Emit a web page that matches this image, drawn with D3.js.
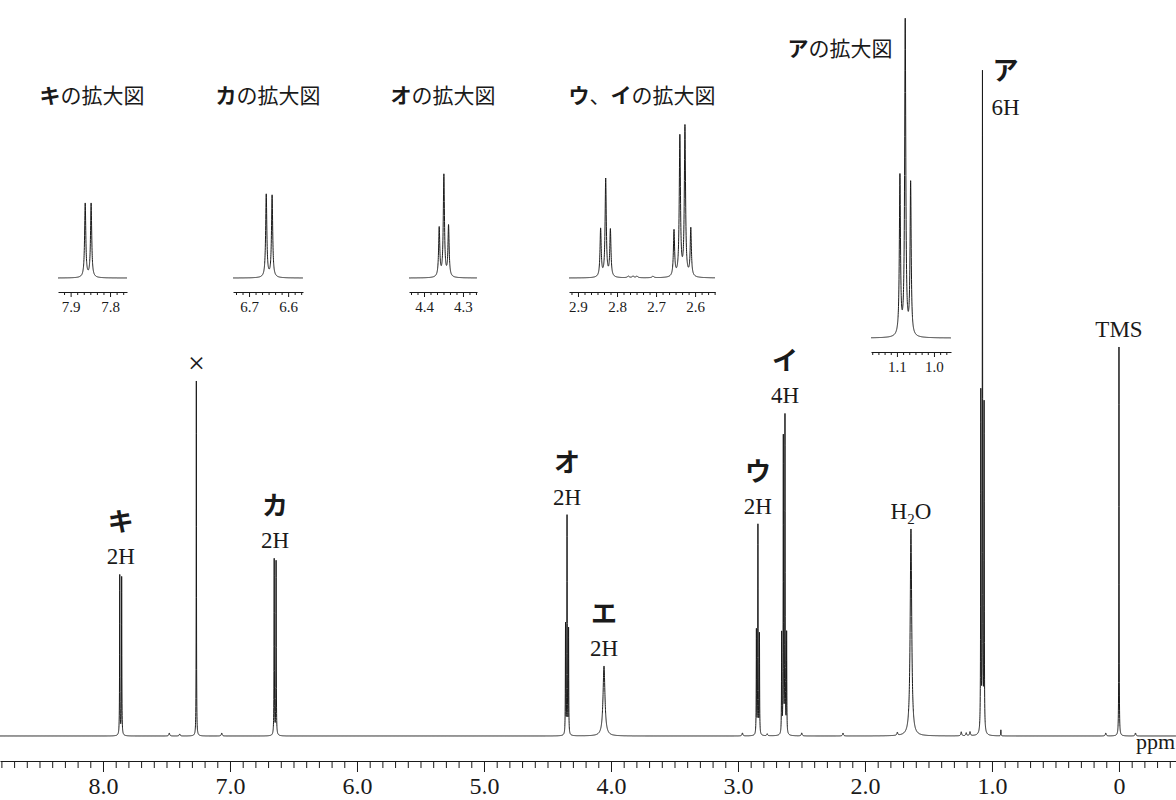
<!DOCTYPE html>
<html>
<head>
<meta charset="utf-8">
<title>1H NMR</title>
<script src="https://d3js.org/d3.v7.min.js"></script>
<style>
  body { margin: 0; background: #fff; }
  svg { display: block; }
  .num { font-family: 'Liberation Serif', 'DejaVu Serif', serif; fill: #1a1a1a; }
  .kana { font-family: 'Noto Sans CJK JP', sans-serif; fill: #1a1a1a; }
  .axis path, .axis line { stroke: #1a1a1a; stroke-width: 1; }
  .spec { fill: none; stroke: #1a1a1a; stroke-width: 1; }
</style>
</head>
<body>
<div id="chart"></div>
<script>
// main spectrum: line positions (ppm), heights, half widths
var mainPpm    = [7.868, 7.853, 7.265, 6.652, 6.637,
                  4.358, 4.346, 4.334, 4.055,
                  2.855, 2.843, 2.831, 2.656, 2.643, 2.630, 2.617,
                  1.638, 1.088, 1.075, 1.062, 0.0,
                  7.478, 7.396, 7.065, 2.965, 2.770, 2.498, 2.173, 1.745,
                  1.242, 1.203, 1.173, 0.930, 0.104, -0.130];
var mainHeight = [160, 158, 355, 176, 174,
                  110, 218, 105, 70,
                  104, 209, 100, 100, 296, 317, 100,
                  207, 338, 657, 326, 389,
                  3, 2, 3, 3, 2, 3, 3, 3,
                  4, 3, 4, 6, 3, 3];
var mainWidth  = [0.0015, 0.0015, 0.0012, 0.0015, 0.0015,
                  0.0015, 0.0015, 0.0015, 0.009,
                  0.0015, 0.0015, 0.0015, 0.0015, 0.0015, 0.0015, 0.0015,
                  0.007, 0.0015, 0.0015, 0.0015, 0.0012,
                  0.004, 0.004, 0.004, 0.004, 0.004, 0.004, 0.004, 0.004,
                  0.004, 0.004, 0.004, 0.0015, 0.004, 0.004];

var axisMajor = [8, 7, 6, 5, 4, 3, 2, 1, 0];

var groupNames  = ["キ", "カ", "オ", "エ", "ウ", "イ", "ア"];
var groupPpm    = [7.860, 6.645, 4.346, 4.055, 2.843, 2.630, 1.075];
var groupCounts = ["2H", "2H", "2H", "2H", "2H", "4H", "6H"];

var otherNames = ["×", "H2O", "TMS"];
var otherPpm   = [7.265, 1.638, 0.0];

// expanded views
var insetTitles = ["キの拡大図", "カの拡大図", "オの拡大図", "ウ、イの拡大図", "アの拡大図"];
var insetDomain = [[7.932, 7.757], [6.741, 6.562], [4.4385, 4.264], [2.923, 2.549], [1.170, 0.954]];
var insetTicks  = [["7.9", "7.8"], ["6.7", "6.6"], ["4.4", "4.3"], ["2.9", "2.8", "2.7", "2.6"], ["1.1", "1.0"]];
var insetPpm = [
  [7.863, 7.848],
  [6.656, 6.641],
  [4.361, 4.349, 4.337],
  [2.842, 2.829, 2.817, 2.654, 2.639, 2.626, 2.611, 2.771, 2.759, 2.749, 2.708],
  [1.0919, 1.0776, 1.063]
];
var insetHeight = [
  [74, 74],
  [83, 82],
  [49, 102, 51],
  [48, 98, 47, 46, 140, 150, 48, 1.5, 1.5, 1.5, 1.5],
  [159, 315, 152]
];

// layout of the expanded views (pixels)
var insetBox = [
  { x0: 58,  x1: 127, base: 278, axis: 292, tx: 92,  ty: 95 },
  { x0: 233, x1: 303, base: 278, axis: 292, tx: 268, ty: 95 },
  { x0: 409, x1: 477, base: 278, axis: 292, tx: 443, ty: 95 },
  { x0: 569, x1: 715, base: 278, axis: 292, tx: 642, ty: 95 },
  { x0: 871, x1: 951, base: 338, axis: 352, tx: 840, ty: 48 }
];

var W = 1176, H = 800;

function spectrum(ppms, heights, widths) {
  return function(x) {
    var s = 0;
    for (var i = 0; i < ppms.length; i++) {
      var d = (x - ppms[i]) / widths[i];
      s += heights[i] / (1 + d * d);
    }
    return s;
  };
}

function grid(d0, d1, step, extra) {
  var g = d3.range(d0, d1, -step).concat(extra.filter(function(p) { return p <= d0 && p >= d1; }));
  return g.sort(function(a, b) { return b - a; });
}

function kanaTitle(sel, text) {
  // katakana letters bold, the rest regular
  text.split("").forEach(function(ch) {
    var bold = /[ァ-ヶ]/.test(ch);
    sel.append("tspan").attr("font-weight", bold ? 700 : 400).text(ch);
  });
}

var svg = d3.select("#chart").append("svg")
  .attr("width", W).attr("height", H);

// ---- main spectrum ----
var x = d3.scaleLinear().domain([8.811, -0.449]).range([0, W]);
var y = d3.scaleLinear().domain([0, 700]).range([736, 36]);

var spec = spectrum(mainPpm, mainHeight, mainWidth);
var pts = grid(8.811, -0.449, 0.0005, mainPpm);

svg.append("path")
  .attr("class", "spec")
  .attr("d", d3.line().x(function(d) { return x(d); }).y(function(d) { return y(spec(d)); })(pts));

// axis
var minorTicks = d3.range(-4, 89).filter(function(k) { return k % 10 !== 0; }).map(function(k) { return k / 10; });

svg.append("g").attr("class", "axis")
  .attr("transform", "translate(0,761)")
  .call(d3.axisBottom(x).tickValues(minorTicks).tickSize(7).tickSizeOuter(0).tickFormat(""));

var gMajor = svg.append("g").attr("class", "axis")
  .attr("transform", "translate(0,761)")
  .call(d3.axisBottom(x).tickValues(axisMajor).tickSize(11).tickSizeOuter(0)
    .tickFormat(function(d) { return d === 0 ? "0" : d.toFixed(1); }));
gMajor.select(".domain").remove();
gMajor.selectAll("text")
  .attr("class", "num")
  .attr("y", 33).attr("dy", 0)
  .style("font-size", "24px");

svg.append("text").attr("class", "num")
  .attr("x", W - 1).attr("y", 749)
  .attr("text-anchor", "end")
  .style("font-size", "22px")
  .text("ppm");

// peak top near a given shift
function topAt(p) {
  var near = mainPpm.filter(function(q) { return Math.abs(q - p) < 0.04; });
  return d3.max(near, function(q) { return spec(q); });
}

// group labels
groupNames.forEach(function(name, i) {
  var px = x(groupPpm[i]);
  var top = y(topAt(groupPpm[i]));
  var kanaY = top - 53, countY = top - 18;
  if (name === "ア") {
    px += 23;
    kanaY = top;
    countY = top + 37;
  }
  svg.append("text").attr("class", "kana")
    .attr("x", px).attr("y", kanaY).attr("dy", "0.38em")
    .attr("text-anchor", "middle")
    .attr("font-weight", 700)
    .style("font-size", "26px")
    .text(name);
  svg.append("text").attr("class", "num")
    .attr("x", px).attr("y", countY).attr("dy", "0.35em")
    .attr("text-anchor", "middle")
    .style("font-size", "23px")
    .text(groupCounts[i]);
});

otherNames.forEach(function(name, i) {
  var t = svg.append("text").attr("class", "num")
    .attr("x", x(otherPpm[i])).attr("y", y(topAt(otherPpm[i])) - 18).attr("dy", "0.35em")
    .attr("text-anchor", "middle")
    .style("font-size", name === "×" ? "30px" : "23px");
  if (name === "H2O") {
    t.append("tspan").text("H");
    t.append("tspan").attr("dy", 5).style("font-size", "15px").text("2");
    t.append("tspan").attr("dy", -5).text("O");
  } else {
    t.text(name);
  }
});

// ---- expanded views ----
insetBox.forEach(function(b, i) {
  var dom = insetDomain[i];
  var xs = d3.scaleLinear().domain(dom).range([b.x0, b.x1]);
  var ys = d3.scaleLinear().domain([0, 100]).range([b.base, b.base - 100]);
  var widths = insetPpm[i].map(function(p, j) { return insetHeight[i][j] < 5 ? 0.003 : 0.0018; });
  var f = spectrum(insetPpm[i], insetHeight[i], widths);
  var g = svg.append("g");

  g.append("path")
    .attr("class", "spec")
    .attr("d", d3.line().x(function(d) { return xs(d); }).y(function(d) { return ys(f(d)); })(grid(dom[0], dom[1], 0.0002, insetPpm[i])));

  var minor = d3.range(Math.ceil(dom[1] * 60), Math.floor(dom[0] * 60) + 1)
    .filter(function(k) { return k % 6 !== 0; })
    .map(function(k) { return k / 60; });
  var major = insetTicks[i].map(Number);

  g.append("g").attr("class", "axis")
    .attr("transform", "translate(0," + b.axis + ")")
    .call(d3.axisBottom(xs).tickValues(minor).tickSize(3).tickSizeOuter(0).tickFormat(""));
  var gm = g.append("g").attr("class", "axis")
    .attr("transform", "translate(0," + b.axis + ")")
    .call(d3.axisBottom(xs).tickValues(major).tickSize(5).tickSizeOuter(0)
      .tickFormat(function(d, j) { return insetTicks[i][j]; }));
  gm.select(".domain").remove();
  gm.selectAll("text")
    .attr("class", "num")
    .attr("y", 15).attr("dy", "0.35em")
    .style("font-size", "15px");

  var t = g.append("text").attr("class", "kana")
    .attr("x", b.tx).attr("y", b.ty).attr("dy", "0.38em")
    .attr("text-anchor", "middle")
    .style("font-size", "21px");
  kanaTitle(t, insetTitles[i]);
});
</script>
</body>
</html>
